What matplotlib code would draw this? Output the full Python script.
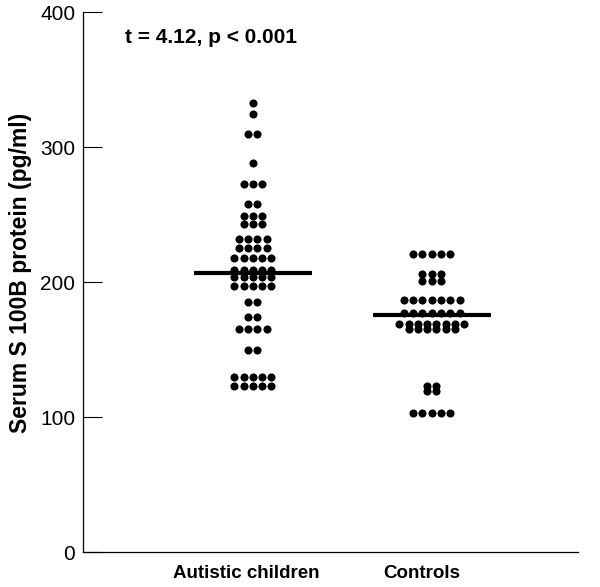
import numpy as np
import matplotlib.pyplot as plt

plt.rcParams['font.family'] = ['Liberation Sans', 'DejaVu Sans']

groups = ['Autistic children', 'Controls']

# serum S100B values (pg/ml)
autistic = [333, 325, 310, 310, 288, 273, 273, 273, 258, 258,
            249, 249, 249, 243, 243, 243, 232, 232, 232, 232,
            225, 225, 225, 225, 218, 218, 218, 218, 218,
            209, 209, 209, 209, 209, 204, 204, 204, 204, 204,
            197, 197, 197, 197, 197, 185, 185, 174, 174,
            165, 165, 165, 165, 150, 150,
            130, 130, 130, 130, 130, 123, 123, 123, 123, 123]
controls = [221, 221, 221, 221, 221, 206, 206, 206, 201, 201, 201,
            187, 187, 187, 187, 187, 187, 187,
            177, 177, 177, 177, 177, 177, 177,
            169, 169, 169, 169, 169, 169, 169, 169,
            165, 165, 165, 165, 165, 165,
            123, 123, 119, 119, 103, 103, 103, 103, 103]
means = [207, 176]
stat_text = 't = 4.12, p < 0.001'

fig = plt.figure(figsize=(6.0, 5.87), dpi=100)
ax = fig.add_axes([0.138, 0.0596, 0.825, 0.9194])

spacing = 0.052
for pos, vals in zip([1, 2], [autistic, controls]):
    vals = np.array(vals)
    xs, ys = [], []
    for v in np.unique(vals):
        n = np.sum(vals == v)
        off = (np.arange(n) - (n - 1) / 2) * spacing
        xs.extend(pos + off)
        ys.extend([v] * n)
    ax.scatter(xs, ys, s=34, color='black', linewidths=0, zorder=3)

for pos, m in zip([1, 2], means):
    ax.plot([pos - 0.33, pos + 0.33], [m, m], color='black', lw=3, solid_capstyle='butt', zorder=4)

ax.set_xlim(0.05, 2.816)
ax.set_ylim(0, 400)
ax.set_yticks([0, 100, 200, 300, 400])
ax.set_xticks([0.966, 1.944])
ax.set_xticklabels(groups, fontsize=13.5, fontweight='bold')
ax.tick_params(axis='x', length=0, pad=9)
ax.tick_params(axis='y', direction='in', length=13.5, width=0.8, pad=5.5, labelsize=15)

for s in ['top', 'right']:
    ax.spines[s].set_visible(False)
for s in ['left', 'bottom']:
    ax.spines[s].set_linewidth(0.9)

ax.set_ylabel('Serum S 100B protein (pg/ml)', fontsize=16.5, fontweight='bold')
ax.yaxis.set_label_coords(-0.102, 0.517)

ax.text(0.085, 0.954, stat_text, transform=ax.transAxes, fontsize=15,
        fontweight='bold', va='center', ha='left')

fig.savefig('out.png', dpi=100)
